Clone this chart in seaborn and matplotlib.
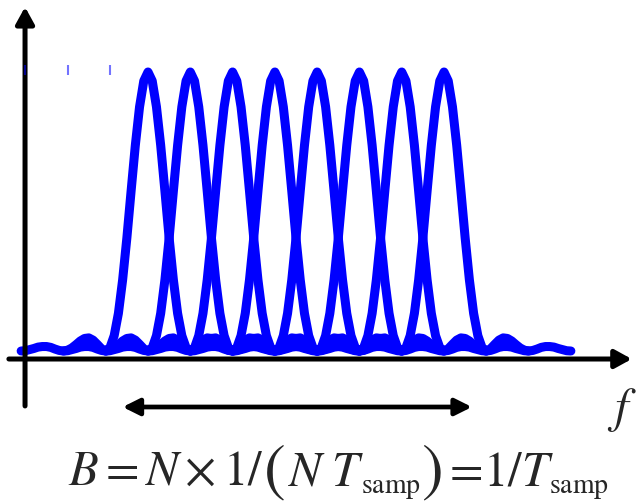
import numpy as np
import pandas as pd
import matplotlib
matplotlib.use('Agg')
import matplotlib.pyplot as plt
import seaborn as sns

# subcarrier centres (in units of the subcarrier spacing)
centers = [0, 1, 2, 3, 4, 5, 6, 7]
offsets = np.round(np.arange(-30, 31) / 10, 1)
profile = [0.000, 0.001, 0.005, 0.009, 0.014, 0.016, 0.016, 0.013, 0.007, 0.002,
           0.000, 0.003, 0.011, 0.023, 0.036, 0.045, 0.047, 0.039, 0.024, 0.008,
           0.000, 0.012, 0.055, 0.135, 0.255, 0.405, 0.573, 0.737, 0.875, 0.968,
           1.000,
           0.968, 0.875, 0.737, 0.573, 0.405, 0.255, 0.135, 0.055, 0.012, 0.000,
           0.008, 0.024, 0.039, 0.047, 0.045, 0.036, 0.023, 0.011, 0.003, 0.000,
           0.002, 0.007, 0.013, 0.016, 0.016, 0.014, 0.009, 0.005, 0.001, 0.000]
tick_x = [-2.9, -1.9, -0.9]

rows = []
for k, c in enumerate(centers):
    for o, a in zip(offsets, profile):
        rows.append({'freq': c + o, 'amp': a, 'carrier': k})
df = pd.DataFrame(rows)

sns.set_style('white')
plt.rcParams['mathtext.fontset'] = 'stix'

fig = plt.figure(figsize=(6.36, 5.02), dpi=100)
ax = fig.add_axes([0, 0, 1, 1])

sns.lineplot(data=df, x='freq', y='amp', hue='carrier', palette=['blue'] * len(centers),
             lw=6.5, legend=False, sort=False, estimator=None, ax=ax, zorder=3)
ax.plot(tick_x, [1.007] * len(tick_x), ls='none', marker='|', ms=7, mew=1.5,
        color='blue', alpha=0.55, zorder=5)

ax.set_xlim(-3.5, 11.54)
ax.set_ylim(-0.5376, 1.2616)
ax.axis('off')

# axes arrows
ax.annotate('', xy=(11.44, -0.0287), xytext=(-3.29, -0.0287),
            arrowprops=dict(arrowstyle='-|>,head_length=1.0,head_width=0.55',
                            lw=3.6, color='black', shrinkA=0, shrinkB=0))
ax.annotate('', xy=(-2.908, 1.233), xytext=(-2.908, -0.197),
            arrowprops=dict(arrowstyle='-|>,head_length=1.0,head_width=0.55',
                            lw=3.6, color='black', shrinkA=0, shrinkB=0))
# bandwidth arrow
ax.annotate('', xy=(7.66, -0.2007), xytext=(-0.6, -0.2007),
            arrowprops=dict(arrowstyle='<|-|>,head_length=1.0,head_width=0.5',
                            lw=3.4, color='black', shrinkA=0, shrinkB=0))

ax.text(10.85, -0.251, r'$f$', fontsize=35, ha='left', va='baseline')

# B = N x 1/(N T_samp) = 1/T_samp, set piece by piece
base = -0.4767
sub = -0.505
ax.text(-1.891, base, r'$B=N\times1/$', fontsize=35, ha='left', va='baseline')
ax.text(2.74, base - 0.011, '(', fontsize=47, ha='left', va='baseline', family='STIXGeneral')
ax.text(3.30, base, r'$N\;T$', fontsize=35, ha='left', va='baseline')
ax.text(5.03, sub, r'$\mathrm{samp}$', fontsize=20, ha='left', va='baseline')
ax.text(6.45, base - 0.011, ')', fontsize=47, ha='left', va='baseline', family='STIXGeneral')
ax.text(6.96, base, r'$=\!1/T$', fontsize=35, ha='left', va='baseline')
ax.text(9.49, sub, r'$\mathrm{samp}$', fontsize=20, ha='left', va='baseline')

fig.savefig('out.png', dpi=100)
